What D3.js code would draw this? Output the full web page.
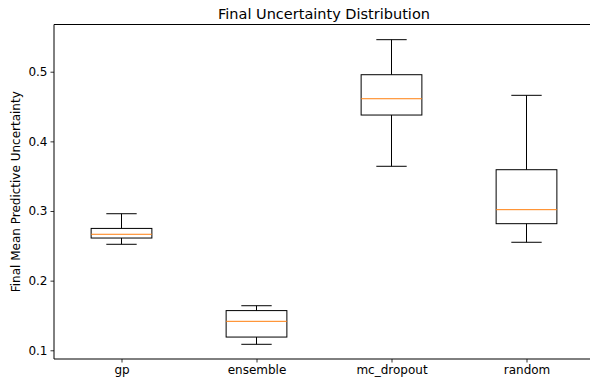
<!DOCTYPE html>
<html>
<head>
<meta charset="utf-8">
<script src="https://cdn.jsdelivr.net/npm/d3@7"></script>
<style>
  html, body { margin: 0; padding: 0; background: #fff; overflow: hidden; }
  svg { display: block; font-family: "DejaVu Sans", sans-serif; }
</style>
</head>
<body>
<svg id="chart" width="590" height="387"></svg>
<script>
// Box-plot summary per method: whisker low, Q1, median, Q3, whisker high
const methods    = ["gp", "ensemble", "mc_dropout", "random"];
const whiskerLow = [0.2522, 0.1086, 0.3642, 0.2551];
const q1         = [0.2612, 0.1190, 0.4378, 0.2818];
const medians    = [0.2666, 0.1416, 0.4612, 0.3019];
const q3         = [0.2750, 0.1570, 0.4957, 0.3593];
const whiskerHigh= [0.2961, 0.1640, 0.5460, 0.4661];
const yTicks     = [0.1, 0.2, 0.3, 0.4, 0.5];

const svg = d3.select("#chart");
const margin = { left: 54, top: 24.5, right: 594, bottom: 359 };

const x = d3.scaleLinear().domain([0.5, 4.5]).range([margin.left, margin.right]);
const y = d3.scaleLinear().domain([0.0875, 0.5678]).range([margin.bottom, margin.top]);

const step = x(2) - x(1);
const boxW = step * 0.45;
const capW = boxW * 0.5;

const g = svg.append("g");

methods.forEach((m, i) => {
  const cx = x(i + 1);
  const grp = g.append("g").attr("stroke", "#000").attr("stroke-width", 1).attr("fill", "none");
  // whiskers
  grp.append("line").attr("x1", cx).attr("x2", cx).attr("y1", y(q3[i])).attr("y2", y(whiskerHigh[i]));
  grp.append("line").attr("x1", cx).attr("x2", cx).attr("y1", y(q1[i])).attr("y2", y(whiskerLow[i]));
  // caps
  grp.append("line").attr("x1", cx - capW / 2).attr("x2", cx + capW / 2).attr("y1", y(whiskerHigh[i])).attr("y2", y(whiskerHigh[i]));
  grp.append("line").attr("x1", cx - capW / 2).attr("x2", cx + capW / 2).attr("y1", y(whiskerLow[i])).attr("y2", y(whiskerLow[i]));
  // box
  grp.append("rect")
    .attr("x", cx - boxW / 2).attr("width", boxW)
    .attr("y", y(q3[i])).attr("height", y(q1[i]) - y(q3[i]));
  // median
  g.append("line")
    .attr("x1", cx - boxW / 2).attr("x2", cx + boxW / 2)
    .attr("y1", y(medians[i])).attr("y2", y(medians[i]))
    .attr("stroke", "#ff7f0e").attr("stroke-width", 1);
});

// axes
const yAxis = d3.axisLeft(y).tickValues(yTicks).tickFormat(d3.format(".1f")).tickSizeOuter(0).tickSize(3.5).tickPadding(3);
const xAxis = d3.axisBottom(x).tickValues([1, 2, 3, 4]).tickFormat((d) => methods[d - 1]).tickSizeOuter(0).tickSize(3.5).tickPadding(3);

const ya = svg.append("g").attr("transform", `translate(${margin.left},0)`).call(yAxis);
const xa = svg.append("g").attr("transform", `translate(0,${margin.bottom})`).call(xAxis);
[ya, xa].forEach(a => {
  a.selectAll("text").attr("font-size", 12).attr("fill", "#000").attr("font-family", "DejaVu Sans");
  a.selectAll("line").attr("stroke", "#000").attr("stroke-width", 0.8);
  a.select(".domain").remove();
});

// spines
const spines = svg.append("g").attr("stroke", "#000").attr("stroke-width", 1).attr("fill", "none");
spines.append("line").attr("x1", margin.left).attr("x2", margin.left).attr("y1", margin.top).attr("y2", margin.bottom);
spines.append("line").attr("x1", margin.left).attr("x2", margin.right).attr("y1", margin.bottom).attr("y2", margin.bottom);
spines.append("line").attr("x1", margin.left).attr("x2", margin.right).attr("y1", margin.top).attr("y2", margin.top);
spines.append("line").attr("x1", margin.right).attr("x2", margin.right).attr("y1", margin.top).attr("y2", margin.bottom);

// title
svg.append("text")
  .attr("x", (margin.left + margin.right) / 2).attr("y", 18.5)
  .attr("text-anchor", "middle").attr("font-size", 14.5).attr("fill", "#000")
  .text("Final Uncertainty Distribution");

// y label
svg.append("text")
  .attr("transform", `translate(19.5,${(margin.top + margin.bottom) / 2}) rotate(-90)`)
  .attr("text-anchor", "middle").attr("font-size", 12).attr("fill", "#000")
  .text("Final Mean Predictive Uncertainty");
</script>
</body>
</html>
